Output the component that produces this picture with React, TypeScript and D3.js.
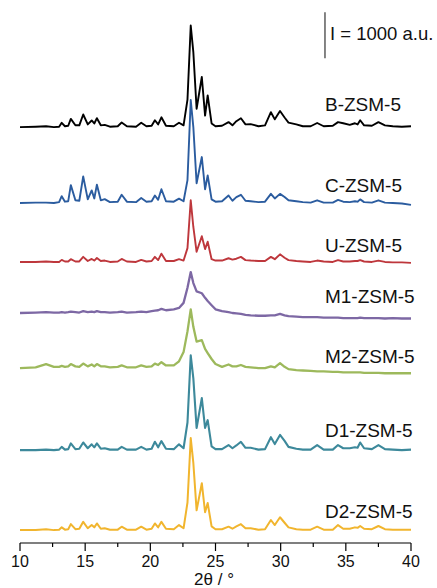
import React from "react";
import * as d3 from "d3";

// 2θ positions (degrees) at which each diffractogram is sampled
const twoTheta = [
  10, 11.2, 12.0, 12.6, 13.0, 13.2, 13.45, 13.7, 13.9, 14.25, 14.55, 14.85, 15.2, 15.5, 15.7,
  15.9, 16.2, 16.5, 16.9, 17.5, 17.8, 18.2, 18.9, 19.3, 19.7, 20.1, 20.35, 20.6, 20.85, 21.2,
  21.8, 22.2, 22.55, 22.85, 23.1, 23.3, 23.55, 23.95, 24.2, 24.4, 24.7, 25.0, 25.5, 26.0, 26.3,
  26.6, 26.95, 27.3, 27.7, 28.3, 28.8, 29.25, 29.55, 29.95, 30.3, 30.6, 31.2, 31.7, 32.3, 32.8,
  33.3, 34.0, 34.4, 34.8, 35.3, 35.7, 35.9, 36.1, 36.4, 37.0, 37.5, 38.0, 38.6, 39.3, 40,
];

// Intensities (a.u.) for each sample, relative to its own baseline
const bZsm5 = [
  0, 10, 20, 0, 10, 95, 20, 30, 180, 40, 40, 275, 60, 145, 80,
  195, 40, 50, 10, 20, 100, 20, 10, 95, 20, 30, 150, 60, 215, 30,
  20, 95, 40, 600, 2210, 1630, 400, 1090, 250, 690, 80, 20, 30, 110, 40,
  130, 195, 60, 65, 20, 40, 325, 170, 350, 210, 100, 60, 20, 20, 90,
  20, 30, 110, 85, 50, 85, 60, 150, 40, 30, 110, 40, 20, 10, 20,
];
const cZsm5 = [
  0, 10, 10, 0, 20, 150, 30, 40, 390, 60, 50, 580, 80, 275, 100,
  400, 60, 85, 20, 30, 180, 30, 20, 110, 30, 40, 165, 70, 300, 40,
  30, 95, 40, 500, 2240, 1650, 430, 1000, 300, 600, 80, 30, 40, 165, 50,
  130, 180, 50, 40, 20, 30, 200, 100, 200, 130, 60, 40, 20, 10, 60,
  10, 10, 70, 30, 20, 40, 30, 80, 20, 10, 60, 10, 0, -10, -40,
];
const uZsm5 = [
  0, 0, 10, 0, 0, 45, 10, 10, 60, 10, 10, 110, 20, 65, 30,
  85, 20, 30, 0, 10, 65, 10, 0, 45, 10, 20, 110, 40, 180, 20,
  20, 60, 30, 300, 1340, 760, 220, 560, 280, 440, 60, 30, 30, 80, 50,
  70, 110, 40, 30, 20, 20, 110, 60, 165, 90, 40, 20, 10, 0, 30,
  10, 0, 40, 10, 10, 20, 20, 40, 10, 0, 30, 0, -10, -10, -20,
];
const m1Zsm5 = [
  0, 10, 20, 10, 10, 20, 10, 20, 30, 20, 10, 40, 20, 30, 20,
  40, 20, 20, 10, 20, 30, 10, 20, 30, 20, 40, 50, 60, 90, 60,
  80, 110, 220, 550, 890, 650, 470, 430, 330, 260, 170, 80, 40, 20, 0,
  -10, -20, -40, -50, -60, -60, -50, -50, -20, -50, -70, -80, -90, -90, -90,
  -100, -100, -100, -110, -110, -110, -110, -100, -110, -110, -110, -120, -110, -120, -120,
];
const m2Zsm5 = [
  0, 20, 90, 30, 30, 50, 30, 40, 90, 40, 30, 100, 40, 80, 40,
  90, 40, 40, 20, 30, 60, 20, 20, 60, 30, 40, 100, 70, 130, 60,
  60, 150, 350, 800, 1280, 900, 580, 610, 420, 330, 200, 90, 30, 80, 40,
  40, 70, 30, 20, 0, 0, 40, 20, 110, 30, -20, -40, -50, -60, -70,
  -70, -80, -80, -90, -90, -90, -90, -90, -100, -100, -100, -110, -110, -110, -110,
];
const d1Zsm5 = [
  0, 0, 10, 0, 10, 70, 10, 20, 145, 20, 30, 165, 40, 125, 60,
  145, 30, 40, 10, 10, 70, 10, 10, 70, 10, 30, 180, 60, 195, 30,
  20, 125, 40, 600, 2060, 1560, 480, 1130, 480, 650, 80, 20, 20, 110, 40,
  100, 180, 50, 50, 10, 20, 280, 130, 330, 200, 70, 30, 10, 10, 110,
  10, 10, 110, 40, 40, 60, 50, 165, 40, 20, 110, 20, 10, 0, 10,
];
const d2Zsm5 = [
  0, 0, 20, 0, 10, 60, 10, 20, 130, 20, 30, 180, 40, 110, 60,
  145, 30, 40, 10, 10, 75, 10, 10, 75, 10, 30, 145, 60, 180, 30,
  20, 110, 40, 600, 2000, 1460, 430, 1020, 390, 590, 80, 20, 20, 75, 30,
  80, 130, 40, 40, 10, 20, 220, 110, 280, 160, 60, 20, 10, 10, 75,
  10, 10, 110, 30, 30, 60, 50, 90, 30, 20, 90, 20, 10, 10, 10,
];

const sampleNames = ["B-ZSM-5", "C-ZSM-5", "U-ZSM-5", "M1-ZSM-5", "M2-ZSM-5", "D1-ZSM-5", "D2-ZSM-5"];
const sampleSeries = [bZsm5, cZsm5, uZsm5, m1Zsm5, m2Zsm5, d1Zsm5, d2Zsm5];
// vertical stacking offsets (a.u.)
const stackOffsets = [8760, 7110, 5830, 4720, 3520, 1740, 0];
// label baselines, expressed as intensity on the stacked scale
const labelLevels = [9110, 7350, 6050, 4940, 3630, 2020, 260];
const sampleColors = ["#000000", "#2b5c9f", "#be373c", "#7d68a4", "#9db95c", "#3d899b", "#f1b52e"];
const sampleWidths = [1.9, 1.9, 1.9, 2.3, 2.3, 2.1, 2.0];

const xTicksMajor = [10, 15, 20, 25, 30, 35, 40];
const xTicksMinor = [12.5, 17.5, 22.5, 27.5, 32.5, 37.5];
const scaleBarIntensity = 1000;
const scaleBarBase = 10260;
const scaleBarAngle = 33.4;

const W = 437;
const H = 588;
const FONT = "Liberation Sans, Arial, sans-serif";

export default function App() {
  const x = d3.scaleLinear().domain([10, 40]).range([20, 411]);
  const y = d3.scaleLinear().domain([-280, 11300]).range([543, 543 - 11580 * 0.046]);
  const axisY = y(-280);

  const line = d3
    .line<[number, number]>()
    .x((d) => x(d[0]))
    .y((d) => y(d[1]))
    .curve(d3.curveLinear);

  return (
    <svg
      width={W}
      height={H}
      style={{ position: "absolute", left: 0, top: 0, background: "#fff" }}
      fontFamily={FONT}
    >
      {sampleSeries.map((vals, i) => {
        const pts = twoTheta.map((t, j) => [t, vals[j] + stackOffsets[i]] as [number, number]);
        return (
          <path
            key={sampleNames[i]}
            d={line(pts) || ""}
            fill="none"
            stroke={sampleColors[i]}
            strokeWidth={sampleWidths[i]}
            strokeLinejoin="round"
          />
        );
      })}

      {sampleNames.map((name, i) => (
        <text key={name} x={x(scaleBarAngle)} y={y(labelLevels[i])} fontSize={19} fill="#111">
          {name}
        </text>
      ))}

      {/* intensity scale bar */}
      <line
        x1={x(scaleBarAngle)}
        x2={x(scaleBarAngle)}
        y1={y(scaleBarBase)}
        y2={y(scaleBarBase + scaleBarIntensity)}
        stroke="#333"
        strokeWidth={1.2}
      />
      <text x={x(scaleBarAngle) + 5} y={40} fontSize={18.5} fill="#111">
        I = 1000 a.u.
      </text>

      {/* 2θ axis */}
      <line x1={x(10)} x2={x(40)} y1={axisY} y2={axisY} stroke="#000" strokeWidth={1.2} />
      {xTicksMajor.map((t) => (
        <g key={"M" + t}>
          <line x1={x(t)} x2={x(t)} y1={axisY} y2={axisY + 8} stroke="#000" strokeWidth={1.2} />
          <text x={x(t)} y={567} fontSize={16} textAnchor="middle" fill="#111">
            {t}
          </text>
        </g>
      ))}
      {xTicksMinor.map((t) => (
        <line key={"m" + t} x1={x(t)} x2={x(t)} y1={axisY} y2={axisY + 4} stroke="#000" strokeWidth={1.2} />
      ))}
      <text x={214} y={585} fontSize={17} textAnchor="middle" fill="#111">
        2θ / °
      </text>
    </svg>
  );
}
